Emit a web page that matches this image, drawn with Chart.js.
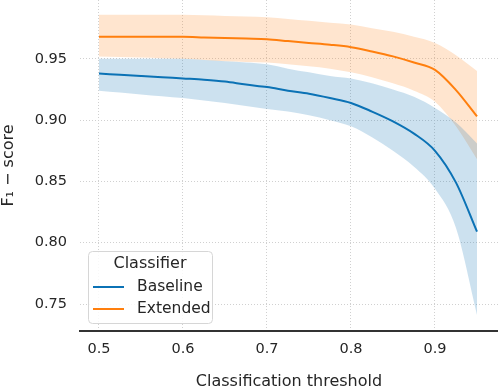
<!DOCTYPE html>
<html><head><meta charset="utf-8">
<script src="https://cdn.jsdelivr.net/npm/chart.js@4"></script>
<style>html,body{margin:0;padding:0;background:#fff}#wrap{width:498px;height:390px}</style>
</head><body><div id="wrap"><canvas id="c" width="498" height="390"></canvas></div>
<script>
const thresholds    = [0.5, 0.525, 0.55, 0.575, 0.6, 0.625, 0.65, 0.675, 0.7, 0.725, 0.75, 0.775, 0.8, 0.825, 0.85, 0.875, 0.9, 0.925, 0.95];
const baselineMean  = [0.938, 0.937, 0.936, 0.935, 0.934, 0.933, 0.9315, 0.929, 0.927, 0.924, 0.9215, 0.918, 0.914, 0.907, 0.899, 0.889, 0.875, 0.849, 0.809];
const baselineUpper = [0.950, 0.950, 0.950, 0.950, 0.950, 0.949, 0.948, 0.947, 0.9455, 0.942, 0.939, 0.936, 0.934, 0.930, 0.925, 0.919, 0.910, 0.898, 0.881];
const baselineLower = [0.924, 0.9225, 0.921, 0.9195, 0.918, 0.916, 0.914, 0.9115, 0.909, 0.907, 0.904, 0.900, 0.895, 0.886, 0.875, 0.862, 0.844, 0.812, 0.741];
const extendedMean  = [0.968, 0.968, 0.968, 0.968, 0.968, 0.9675, 0.967, 0.9665, 0.966, 0.9645, 0.963, 0.9615, 0.9595, 0.956, 0.952, 0.947, 0.941, 0.9245, 0.903];
const extendedUpper = [0.986, 0.986, 0.986, 0.986, 0.986, 0.9855, 0.985, 0.9845, 0.984, 0.9825, 0.981, 0.9795, 0.978, 0.975, 0.972, 0.968, 0.963, 0.953, 0.940];
const extendedLower = [0.952, 0.9515, 0.951, 0.9505, 0.950, 0.949, 0.948, 0.9475, 0.947, 0.9455, 0.944, 0.942, 0.939, 0.935, 0.930, 0.924, 0.915, 0.895, 0.868];
const xTicks = [0.5, 0.6, 0.7, 0.8, 0.9];
const yTicks = [0.75, 0.80, 0.85, 0.90, 0.95];
const seriesNames = ['Baseline', 'Extended'];
const legendTitle = 'Classifier';
const xTitle = 'Classification threshold';
const yTitle = 'F\u2081 \u2212 score';

const BLUE = '#0b72b5', ORANGE = '#ff7f0e';
const BLUE_BAND = 'rgba(23,118,182,0.22)', ORANGE_BAND = 'rgba(255,127,14,0.2)';
const TXT = '#262626';
const FONT = '"DejaVu Sans", sans-serif';

const pts = arr => thresholds.map((t, i) => ({x: t, y: arr[i]}));
const common = {pointRadius: 0, pointHoverRadius: 0, cubicInterpolationMode: 'monotone'};

const datasets = [
  {label: seriesNames[0], data: pts(baselineMean), borderColor: BLUE, borderWidth: 2, fill: false, ...common},
  {label: seriesNames[1], data: pts(extendedMean), borderColor: ORANGE, borderWidth: 2, fill: false, ...common},
  {label: '', data: pts(baselineUpper), borderWidth: 0, borderColor: 'rgba(0,0,0,0)', fill: false, ...common},
  {label: '', data: pts(baselineLower), borderWidth: 0, borderColor: 'rgba(0,0,0,0)', backgroundColor: BLUE_BAND, fill: 2, ...common},
  {label: '', data: pts(extendedUpper), borderWidth: 0, borderColor: 'rgba(0,0,0,0)', fill: false, ...common},
  {label: '', data: pts(extendedLower), borderWidth: 0, borderColor: 'rgba(0,0,0,0)', backgroundColor: ORANGE_BAND, fill: 4, ...common}
];

const boxLegend = {
  id: 'boxLegend',
  afterDraw(chart) {
    const ctx = chart.ctx, ca = chart.chartArea;
    const w = 124, h = 72;
    const left = ca.left + 8, top = ca.bottom - 8 - h;
    ctx.save();
    ctx.beginPath();
    ctx.roundRect(left + 0.5, top + 0.5, w, h, 4);
    ctx.fillStyle = 'rgba(255,255,255,0.85)';
    ctx.fill();
    ctx.strokeStyle = '#d6d6d6';
    ctx.lineWidth = 1;
    ctx.stroke();
    ctx.fillStyle = TXT;
    ctx.textBaseline = 'middle';
    ctx.textAlign = 'center';
    ctx.font = '16px ' + FONT;
    ctx.fillText(legendTitle, left + w / 2, top + 13);
    ctx.textAlign = 'left';
    ctx.font = '15.5px ' + FONT;
    [0, 1].forEach((k, j) => {
      const ds = chart.data.datasets[k];
      const y = top + 36 + j * 22;
      ctx.strokeStyle = ds.borderColor;
      ctx.lineWidth = 2;
      ctx.beginPath();
      ctx.moveTo(left + 5, y);
      ctx.lineTo(left + 36, y);
      ctx.stroke();
      ctx.fillText(ds.label, left + 49, y);
    });
    ctx.restore();
  }
};

new Chart(document.getElementById('c'), {
  type: 'line',
  data: {datasets},
  plugins: [boxLegend],
  options: {
    responsive: false,
    devicePixelRatio: 1,
    animation: false,
    events: [],
    layout: {padding: 0},
    plugins: {legend: {display: false}, tooltip: {enabled: false}, filler: {propagate: false}},
    scales: {
      x: {
        type: 'linear', min: 0.4774, max: 0.975,
        afterFit: s => { s.height = 59; s.paddingLeft = 0; s.paddingRight = 0; },
        afterBuildTicks: s => { s.ticks = xTicks.map(v => ({value: v})); },
        ticks: {padding: 10, color: TXT, font: {family: FONT, size: 14.5}, callback: v => Number(v).toFixed(1), maxRotation: 0, autoSkip: false},
        grid: {color: '#d0d0d0', lineWidth: 1, drawTicks: false},
        border: {display: true, color: '#333333', width: 2, dash: [1, 2]},
        title: {display: true, text: xTitle, color: TXT, font: {family: FONT, size: 16, lineHeight: 1}, padding: {top: 0, bottom: 0}}
      },
      y: {
        type: 'linear', min: 0.728, max: 0.998,
        afterFit: s => { s.width = 80; s.paddingTop = 0; s.paddingBottom = 0; },
        afterBuildTicks: s => { s.ticks = yTicks.map(v => ({value: v})); },
        ticks: {padding: 13, color: TXT, font: {family: FONT, size: 14.5}, callback: v => Number(v).toFixed(2), autoSkip: false},
        grid: {color: '#d0d0d0', lineWidth: 1, drawTicks: false},
        border: {display: false, dash: [1, 2]},
        title: {display: true, text: yTitle, color: TXT, font: {family: FONT, size: 16, lineHeight: 1}, padding: {top: 1, bottom: 0}}
      }
    }
  }
});
</script></body></html>
